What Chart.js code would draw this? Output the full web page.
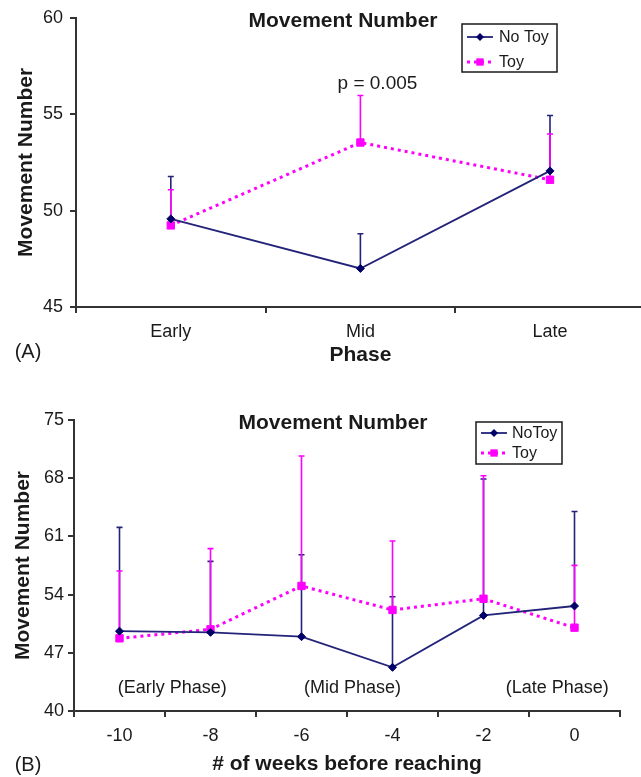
<!DOCTYPE html>
<html>
<head>
<meta charset="utf-8">
<script src="https://cdn.jsdelivr.net/npm/chart.js@4/dist/chart.umd.min.js"></script>
<style>
  html,body{margin:0;padding:0;background:#fff;overflow:hidden}
  body{width:641px;height:777px;position:relative}
  canvas{position:absolute;left:0}
  #chartA{top:0}
  #chartB{top:385px}
</style>
</head>
<body>
<canvas id="chartA" width="651" height="385"></canvas>
<canvas id="chartB" width="641" height="392"></canvas>
<script>
// panel A : by phase
const phases = ['Early','Mid','Late']
const phaseNoToy = [49.57, 47.0, 52.06]
const phaseNoToyErr = [2.2, 1.8, 2.87]
const phaseToy = [49.23, 53.53, 51.6]
const phaseToyErr = [1.85, 2.44, 2.37]
const phaseTicks = [45, 50, 55, 60]

// panel B : by week
const weeks = ['-10','-8','-6','-4','-2','0']
const weekNoToy = [49.6, 49.46, 48.94, 45.25, 51.5, 52.63]
const weekNoToyErr = [12.49, 8.54, 9.86, 8.5, 16.4, 11.37]
const weekToy = [48.74, 49.82, 55.04, 52.15, 53.5, 50.02]
const weekToyErr = [8.1, 9.71, 15.63, 8.3, 14.8, 7.5]
const weekTicks = [40, 47, 54, 61, 68, 75]

const FONT = '"Liberation Sans", Arial, sans-serif'
const NAVY = '#23237a'
const MAGENTA = '#ff00ff'
const INK = '#1a1a1a'

// upper error bars, drawn under the lines
const errorBars = {
  id:'errorBars',
  beforeDatasetsDraw(chart){
    const {ctx, scales:{y}} = chart
    chart.data.datasets.forEach((ds,i)=>{
      const meta = chart.getDatasetMeta(i)
      ctx.save()
      ctx.strokeStyle = ds.barColor
      ctx.lineWidth = 1.6
      ds.data.forEach((v,j)=>{
        const px = meta.data[j].x
        const base = y.getPixelForValue(v)
        const top = y.getPixelForValue(v + ds.errors[j])
        ctx.beginPath()
        ctx.moveTo(px,base)
        ctx.lineTo(px,top)
        ctx.moveTo(px-3,top)
        ctx.lineTo(px+3,top)
        ctx.stroke()
      })
      ctx.restore()
    })
  }
}

function marker(ctx, style, x, y, r){
  ctx.beginPath()
  if(style==='rectRot'){
    ctx.moveTo(x,y-r); ctx.lineTo(x+r,y); ctx.lineTo(x,y+r); ctx.lineTo(x-r,y)
  } else {
    const s = r*Math.SQRT1_2
    ctx.rect(x-s,y-s,2*s,2*s)
  }
  ctx.closePath()
  ctx.fill()
}

// heading, legend box, notes and panel tag
const panelText = {
  id:'panelText',
  afterDraw(chart,args,o){
    const {ctx, scales:{x,y}} = chart
    ctx.save()
    ctx.fillStyle = INK
    ctx.textAlign = 'center'
    ctx.textBaseline = 'middle'
    ctx.font = 'bold 21px ' + FONT
    ctx.fillText(o.heading, o.headingX, o.headingY)

    ctx.font = '20px ' + FONT
    ctx.fillText(o.tag, o.tagX, o.tagY)

    ctx.font = o.noteSize + 'px ' + FONT
    o.notes.forEach(n=>{
      ctx.fillText(n.text, x.getPixelForValue(n.at[0]), y.getPixelForValue(n.at[1]))
    })

    const lg = o.legend
    ctx.strokeStyle = INK
    ctx.lineWidth = 1.5
    ctx.strokeRect(lg.x, lg.y, lg.w, lg.h)
    ctx.textAlign = 'left'
    ctx.font = '16px ' + FONT
    chart.data.datasets.forEach((ds,i)=>{
      const ry = lg.y + lg.first + i*lg.gap
      ctx.beginPath()
      ctx.setLineDash(ds.borderDash || [])
      ctx.lineWidth = ds.borderWidth
      ctx.strokeStyle = ds.borderColor
      ctx.moveTo(lg.x+5, ry)
      ctx.lineTo(lg.x+31, ry)
      ctx.stroke()
      ctx.setLineDash([])
      ctx.fillStyle = ds.pointBackgroundColor
      marker(ctx, ds.pointStyle, lg.x+18, ry, ds.pointRadius)
      ctx.fillStyle = INK
      ctx.fillText(ds.label, lg.x+lg.textX, ry+1)
    })
    ctx.restore()
  }
}

function makeSets(noToy, noToyErr, toy, toyErr, noToyLabel){
  return [{
    label:noToyLabel,
    data:noToy,
    errors:noToyErr,
    barColor:NAVY,
    borderColor:NAVY,
    borderWidth:1.8,
    pointStyle:'rectRot',
    pointRadius:4,
    pointBackgroundColor:'#000066',
    pointBorderColor:'#000066',
    pointBorderWidth:1,
    tension:0
  },{
    label:'Toy',
    data:toy,
    errors:toyErr,
    barColor:MAGENTA,
    borderColor:MAGENTA,
    borderWidth:3,
    borderDash:[3,4],
    pointStyle:'rect',
    pointRadius:5.2,
    pointBackgroundColor:MAGENTA,
    pointBorderColor:MAGENTA,
    pointBorderWidth:1,
    tension:0
  }]
}

function makeOptions(cfg){
  return {
    responsive:false,
    animation:false,
    layout:{padding:cfg.padding},
    plugins:{
      legend:{display:false},
      tooltip:{enabled:false},
      panelText:cfg.text
    },
    scales:{
      x:{
        offset:true,
        grid:{offset:true, drawOnChartArea:false, drawTicks:true, tickLength:6, color:'#333', lineWidth:2},
        border:{display:true, color:'#333', width:2},
        ticks:{color:INK, font:{family:FONT, size:18}, padding:cfg.xPad, maxRotation:0},
        title:{display:true, text:cfg.xTitle, color:INK, font:{family:FONT, size:21, weight:'bold'}, padding:{top:0, bottom:cfg.xTitlePad}},
        afterFit:s=>{ s.height = cfg.xHeight }
      },
      y:{
        min:cfg.ticks[0],
        max:cfg.ticks[cfg.ticks.length-1],
        afterBuildTicks:s=>{ s.ticks = cfg.ticks.map(v=>({value:v})) },
        grid:{drawOnChartArea:false, drawTicks:true, tickLength:6, color:'#333', lineWidth:2},
        border:{display:true, color:'#333', width:2},
        ticks:{color:INK, font:{family:FONT, size:18}, padding:cfg.yPad},
        title:{display:true, text:'Movement Number', color:INK, font:{family:FONT, size:21, weight:'bold'}, padding:{top:cfg.yTitlePad, bottom:0}},
        afterFit:s=>{ s.width = cfg.yWidth }
      }
    }
  }
}

new Chart(document.getElementById('chartA'),{
  type:'line',
  data:{labels:phases, datasets:makeSets(phaseNoToy, phaseNoToyErr, phaseToy, phaseToyErr, 'No Toy')},
  options:makeOptions({
    padding:{top:16, right:6, left:0, bottom:0},
    ticks:phaseTicks,
    xTitle:'Phase',
    xPad:8, xTitlePad:17, xHeight:78,
    yPad:7, yTitlePad:14, yWidth:76,
    text:{
      heading:'Movement Number', headingX:343, headingY:21,
      tag:'(A)', tagX:28, tagY:352,
      noteSize:19,
      notes:[{text:'p = 0.005', at:[1.09, 56.6]}],
      legend:{x:462, y:24, w:95, h:48, first:13, gap:25, textX:37}
    }
  }),
  plugins:[errorBars, panelText]
})

new Chart(document.getElementById('chartB'),{
  type:'line',
  data:{labels:weeks, datasets:makeSets(weekNoToy, weekNoToyErr, weekToy, weekToyErr, 'NoToy')},
  options:makeOptions({
    padding:{top:35, right:21, left:0, bottom:0},
    ticks:weekTicks,
    xTitle:'# of weeks before reaching',
    xPad:8, xTitlePad:0, xHeight:66,
    yPad:4, yTitlePad:11, yWidth:74,
    text:{
      heading:'Movement Number', headingX:333, headingY:38,
      tag:'(B)', tagX:28, tagY:380,
      noteSize:18,
      notes:[
        {text:'(Early Phase)', at:[0.58, 42.8]},
        {text:'(Mid Phase)', at:[2.56, 42.8]},
        {text:'(Late Phase)', at:[4.81, 42.8]}
      ],
      legend:{x:476, y:37, w:86, h:42, first:11, gap:20, textX:36}
    }
  }),
  plugins:[errorBars, panelText]
})
</script>
</body>
</html>
